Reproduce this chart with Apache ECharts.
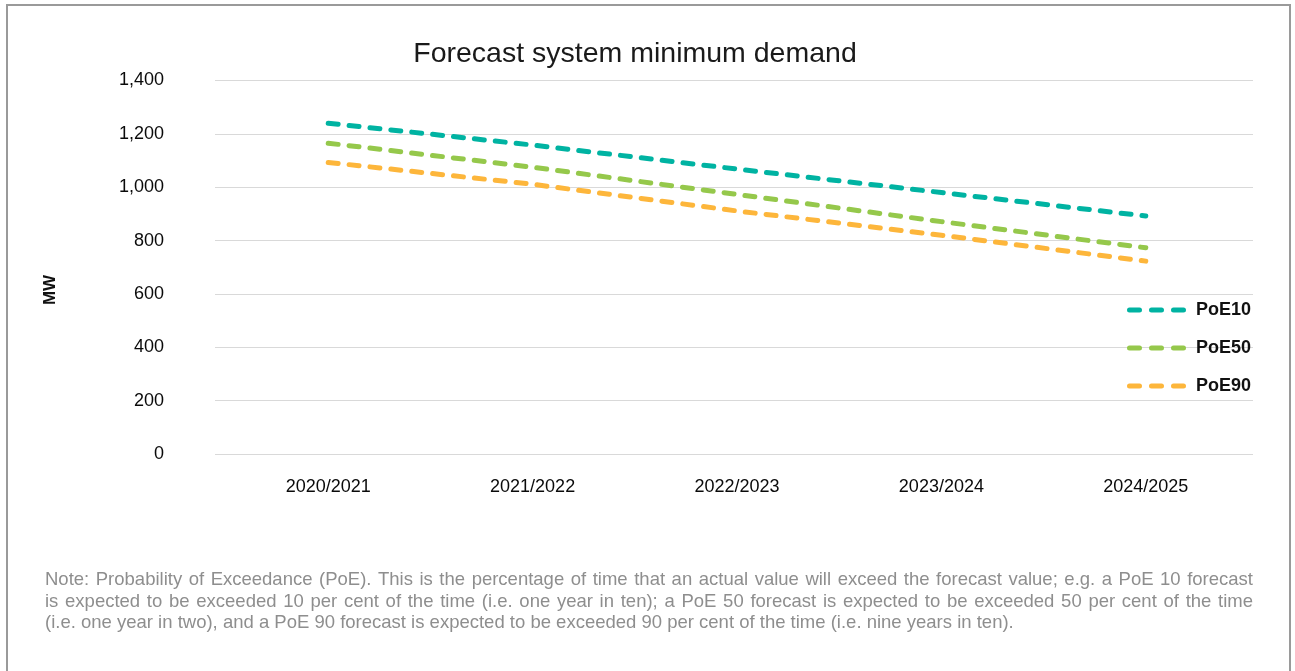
<!DOCTYPE html>
<html>
<head>
<meta charset="utf-8">
<title>Forecast system minimum demand</title>
<script src="https://cdn.jsdelivr.net/npm/echarts@6/dist/echarts.min.js"></script>
<style>
  html, body { margin: 0; padding: 0; background: #ffffff; }
  #chart { width: 1295px; height: 671px; }
</style>
</head>
<body>
<div id="chart"></div>
<script>
// Financial years on the category axis
const years = ['2020/2021', '2021/2022', '2022/2023', '2023/2024', '2024/2025'];

// Forecast minimum demand (MW) by probability of exceedance
const poe10 = [1240, 1158, 1068, 980, 892];
const poe50 = [1165, 1075, 973, 871, 773];
const poe90 = [1093, 1011, 911, 820, 723];

// Value axis ticks
const yMin = 0;
const yMax = 1400;
const yStep = 200;

const noteLines = [
  'Note: Probability of Exceedance (PoE). This is the percentage of time that an actual value will exceed the forecast value; e.g. a PoE 10 forecast',
  'is expected to be exceeded 10 per cent of the time (i.e. one year in ten); a PoE 50 forecast is expected to be exceeded 50 per cent of the time',
  '(i.e. one year in two), and a PoE 90 forecast is expected to be exceeded 90 per cent of the time (i.e. nine years in ten).'
];

const FONT = '"Liberation Sans", Arial, Helvetica, sans-serif';
const colors = { poe10: '#00b3a2', poe50: '#95c84b', poe90: '#fdb63b' };

// Legend key: three rounded dashes, like the series stroke
const DASH_ICON = 'path://' +
  'M2.5,0H12.5A2.5,2.5,0,0,1,12.5,5H2.5A2.5,2.5,0,0,1,2.5,0Z' +
  'M24.5,0H34.5A2.5,2.5,0,0,1,34.5,5H24.5A2.5,2.5,0,0,1,24.5,0Z' +
  'M46.5,0H56.5A2.5,2.5,0,0,1,56.5,5H46.5A2.5,2.5,0,0,1,46.5,0Z';

function dashedLine(name, data, color) {
  return {
    name: name,
    type: 'line',
    xAxisIndex: 1,
    yAxisIndex: 1,
    data: data,
    symbol: 'none',
    silent: true,
    lineStyle: { color: color, width: 5, type: [10, 11], cap: 'round' },
    itemStyle: { color: color }
  };
}

// Footnote: justified lines (all but the last), laid out word by word
const NOTE_SIZE = 18.5;
const NOTE_LEFT = 45;
const NOTE_WIDTH = 1208;
const NOTE_TOP = 580;
const NOTE_LINE = 21.5;

function noteGraphics() {
  const ctx = document.createElement('canvas').getContext('2d');
  ctx.font = NOTE_SIZE + 'px ' + FONT;
  const out = [];
  noteLines.forEach(function (line, i) {
    const y = NOTE_TOP + i * NOTE_LINE;
    const style = { fontFamily: FONT, fontSize: NOTE_SIZE, fill: '#8e8e8e', textVerticalAlign: 'middle' };
    if (i === noteLines.length - 1) {
      out.push({ type: 'text', x: NOTE_LEFT, y: y, silent: true, style: Object.assign({ text: line }, style) });
      return;
    }
    const words = line.split(' ');
    const widths = words.map(function (w) { return ctx.measureText(w).width; });
    const total = widths.reduce(function (a, b) { return a + b; }, 0);
    const gap = (NOTE_WIDTH - total) / (words.length - 1);
    let x = NOTE_LEFT;
    words.forEach(function (w, k) {
      out.push({ type: 'text', x: x, y: y, silent: true, style: Object.assign({ text: w }, style) });
      x += widths[k] + gap;
    });
  });
  return out;
}

const chart = echarts.init(document.getElementById('chart'), null, { renderer: 'canvas' });

chart.setOption({
  animation: false,
  backgroundColor: '#ffffff',
  title: {
    text: 'Forecast system minimum demand',
    left: 630,
    textAlign: 'center',
    top: 35,
    textStyle: { fontFamily: FONT, fontSize: 28.5, fontWeight: 'normal', color: '#1a1a1a' }
  },
  legend: {
    orient: 'vertical',
    left: 1122,
    top: 296,
    icon: DASH_ICON,
    itemWidth: 59,
    itemHeight: 5,
    itemGap: 20,
    textStyle: { fontFamily: FONT, fontSize: 18, fontWeight: 'bold', color: '#111111', padding: [0, 0, 0, 5] },
    data: ['PoE10', 'PoE50', 'PoE90']
  },
  grid: [
    // gridline frame
    { left: 215, right: 42, top: 80.5, bottom: 217 },
    // plotting band for the category axis
    { left: 226, right: 47, top: 80.5, bottom: 217 }
  ],
  xAxis: [
    { gridIndex: 0, type: 'value', min: 0, max: 1, show: false },
    {
      gridIndex: 1,
      type: 'category',
      data: years,
      boundaryGap: true,
      axisLine: { show: false },
      axisTick: { show: false },
      axisLabel: { fontFamily: FONT, fontSize: 18, color: '#0a0a0a', margin: 24 }
    }
  ],
  yAxis: [
    {
      gridIndex: 0,
      type: 'value',
      min: yMin,
      max: yMax,
      interval: yStep,
      axisLine: { show: false },
      axisTick: { show: false },
      axisLabel: {
        fontFamily: FONT,
        fontSize: 18,
        color: '#0a0a0a',
        margin: 51,
        formatter: function (v) { return v.toLocaleString('en-US'); }
      },
      splitLine: { lineStyle: { color: '#d9d9d9', width: 1.2 } }
    },
    {
      gridIndex: 1,
      type: 'value',
      min: yMin,
      max: yMax,
      interval: yStep,
      show: false
    }
  ],
  series: [
    dashedLine('PoE10', poe10, colors.poe10),
    dashedLine('PoE50', poe50, colors.poe50),
    dashedLine('PoE90', poe90, colors.poe90)
  ],
  graphic: [
    {
      type: 'rect',
      shape: { x: 7, y: 5, width: 1283, height: 700 },
      style: { fill: 'none', stroke: '#9a9a9a', lineWidth: 2 },
      silent: true
    },
    {
      type: 'text',
      x: 50,
      y: 290,
      rotation: Math.PI / 2,
      style: {
        text: 'MW',
        fontFamily: FONT,
        fontSize: 17,
        fontWeight: 'bold',
        fill: '#111111',
        textAlign: 'center',
        textVerticalAlign: 'middle'
      }
    }
  ].concat(noteGraphics())
});
</script>
</body>
</html>
